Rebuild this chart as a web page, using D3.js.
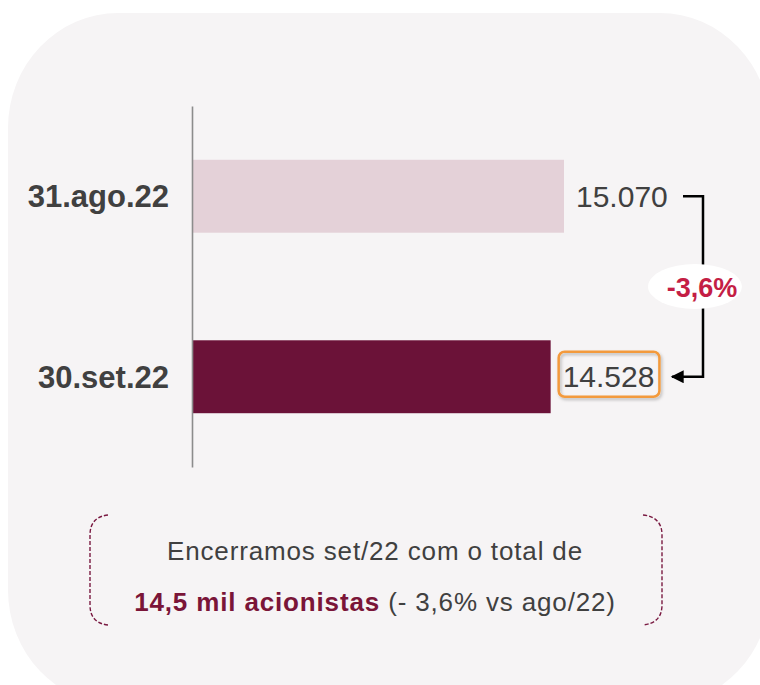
<!DOCTYPE html>
<html>
<head>
<meta charset="utf-8">
<script src="https://cdn.jsdelivr.net/npm/d3@7"></script>
<style>
  body { margin: 0; background: #fff; }
  svg { display: block; font-family: "Liberation Sans", Arial, sans-serif; }
</style>
</head>
<body>
<svg id="chart"></svg>
<script>
const categories = ['31.ago.22', '30.set.22'];
const values = [15070, 14528];
const barColors = ['#e4d1d8', '#6b1238'];
const changeLabel = '-3,6%';
const noteLine1 = 'Encerramos set/22 com o total de';
const noteBold = '14,5 mil acionistas';
const noteRest = ' (- 3,6% vs ago/22)';

const w = 760, h = 685;
const svg = d3.select('#chart')
  .attr('width', w)
  .attr('height', h);

const defs = svg.append('defs');
const shadow = defs.append('filter').attr('id', 'shadow')
  .attr('x', '-20%').attr('y', '-30%').attr('width', '140%').attr('height', '160%');
shadow.append('feDropShadow')
  .attr('dx', 1.5).attr('dy', 2).attr('stdDeviation', 1.5)
  .attr('flood-color', '#000').attr('flood-opacity', 0.25);

// panel background
svg.append('rect')
  .attr('x', 8).attr('y', 13)
  .attr('width', 762).attr('height', 692)
  .attr('rx', 110).attr('ry', 115)
  .attr('fill', '#f6f4f5');

const xScale = d3.scaleLinear()
  .domain([0, d3.max(values)])
  .range([193, 564]);

const yScale = d3.scaleBand()
  .domain(categories)
  .range([106, 467])
  .paddingInner(0.596)
  .paddingOuter(0.298);

// bars
svg.selectAll('.bar')
  .data(values)
  .join('rect')
  .attr('class', 'bar')
  .attr('x', xScale(0))
  .attr('y', (d, i) => yScale(categories[i]))
  .attr('width', d => xScale(d) - xScale(0))
  .attr('height', yScale.bandwidth())
  .attr('fill', (d, i) => barColors[i]);

// axis line
const yAxis = d3.axisLeft(yScale).tickSize(0).tickPadding(23);
const axisG = svg.append('g')
  .attr('transform', `translate(${xScale(0) - 1},0)`)
  .call(yAxis);
axisG.select('.domain')
  .attr('stroke', '#8c8c8c')
  .attr('stroke-width', 1.6);
axisG.selectAll('text')
  .attr('font-family', '"Liberation Sans", Arial, sans-serif')
  .attr('font-size', 31)
  .attr('font-weight', 'bold')
  .attr('fill', '#404040')
  .attr('dy', '0.36em');

const mid = c => yScale(c) + yScale.bandwidth() / 2;

// value labels
const valueLabels = svg.selectAll('.val')
  .data(values)
  .join('text')
  .attr('class', 'val')
  .attr('x', d => xScale(d) + 12)
  .attr('y', (d, i) => mid(categories[i]) + 10.5)
  .attr('font-size', 30)
  .attr('fill', '#404040')
  .text(d => d3.format(',')(d).replace(/,/g, '.'));

// orange highlight around the last value
const bb = valueLabels.nodes()[1].getBBox();
svg.insert('rect', '.val')
  .attr('x', bb.x - 4)
  .attr('y', mid(categories[1]) - 25)
  .attr('width', bb.width + 9)
  .attr('height', 45)
  .attr('rx', 6)
  .attr('fill', 'none')
  .attr('stroke', '#f39a3c')
  .attr('stroke-width', 2.5)
  .attr('filter', 'url(#shadow)');

// bracket arrow
const y1 = mid(categories[0]), y2 = mid(categories[1]);
const bx = xScale(values[0]) + 139;
defs.append('marker')
  .attr('id', 'arrow')
  .attr('viewBox', '0 0 10 10')
  .attr('refX', 9).attr('refY', 5)
  .attr('markerWidth', 15).attr('markerHeight', 13)
  .attr('markerUnits', 'userSpaceOnUse')
  .attr('orient', 'auto')
  .append('path')
  .attr('d', 'M0,0L10,5L0,10Z')
  .attr('fill', '#000');

svg.append('path')
  .attr('d', d3.line()([[bx - 20, y1], [bx, y1], [bx, y2], [bx - 31, y2]]))
  .attr('fill', 'none')
  .attr('stroke', '#000')
  .attr('stroke-width', 2.5)
  .attr('marker-end', 'url(#arrow)');

const cy = (y1 + y2) / 2;
svg.append('ellipse')
  .attr('cx', bx - 8).attr('cy', cy)
  .attr('rx', 47).attr('ry', 22.5)
  .attr('fill', '#fff');
svg.append('text')
  .attr('x', bx - 1).attr('y', cy + 10)
  .attr('text-anchor', 'middle')
  .attr('font-size', 27)
  .attr('font-weight', 'bold')
  .attr('fill', '#c41e45')
  .text(changeLabel);

// note box with dashed brackets
const bracketColor = '#7a1a42';
const left = d3.path();
left.moveTo(108, 515);
left.quadraticCurveTo(90, 517, 90, 535);
left.lineTo(90, 605);
left.quadraticCurveTo(90, 623, 108, 625);
const right = d3.path();
right.moveTo(643, 515);
right.quadraticCurveTo(662, 517, 662, 535);
right.lineTo(662, 605);
right.quadraticCurveTo(662, 623, 643, 625);
svg.selectAll('.brk')
  .data([left.toString(), right.toString()])
  .join('path')
  .attr('d', d => d)
  .attr('fill', 'none')
  .attr('stroke', bracketColor)
  .attr('stroke-width', 1.4)
  .attr('stroke-dasharray', '4,2');

svg.append('text')
  .attr('x', 375).attr('y', 560)
  .attr('text-anchor', 'middle')
  .attr('font-size', 26)
  .attr('letter-spacing', 0.85)
  .attr('fill', '#404040')
  .text(noteLine1);

const t2 = svg.append('text')
  .attr('x', 375).attr('y', 611)
  .attr('text-anchor', 'middle')
  .attr('font-size', 26)
  .attr('letter-spacing', 0.85)
  .attr('fill', '#404040');
t2.append('tspan')
  .attr('font-weight', 'bold')
  .attr('fill', '#7a1538')
  .text(noteBold);
t2.append('tspan')
  .attr('xml:space', 'preserve')
  .style('white-space', 'pre')
  .text(noteRest);
</script>
</body>
</html>
